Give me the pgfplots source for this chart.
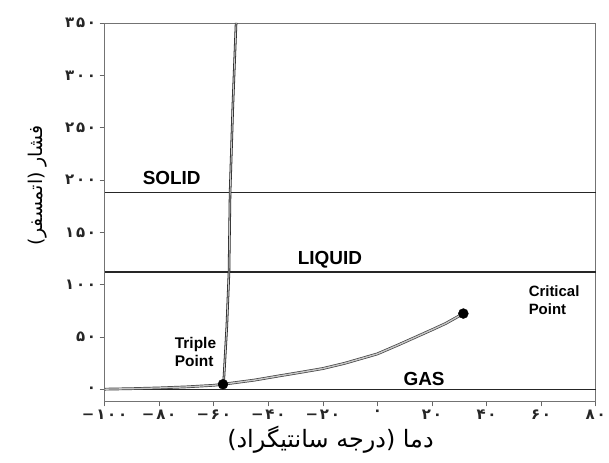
\documentclass[border=0pt]{standalone}
\usepackage{pgfplots}
\pgfplotsset{compat=1.18}
\usepackage{fontspec}
\setmainfont{Liberation Sans}
\newfontfamily\arabicfont[Script=Arabic]{DejaVu Sans}
\newfontfamily\digitfont[LetterSpace=12]{DejaVu Sans Bold}
\TeXXeTstate=1
\begin{document}
\begin{tikzpicture}
\begin{axis}[
  at={(0,0)}, anchor=south west,
  scale only axis, width=493pt, height=380pt,
  xmin=-100, xmax=80, ymin=-11.4, ymax=350,
  xtick={-100,-80,-60,-40,-20,0,20,40,60,80},
  xticklabels={−۱۰۰,−۸۰,−۶۰,−۴۰,−۲۰,۰,۲۰,۴۰,۶۰,۸۰},
  ytick={0,50,100,150,200,250,300,350},
  yticklabels={۰,۵۰,۱۰۰,۱۵۰,۲۰۰,۲۵۰,۳۰۰,۳۵۰},
  tick align=outside, major tick length=5pt,
  xtick pos=bottom, ytick pos=left,
  tick label style={font=\digitfont\fontsize{15}{15}\selectfont, black!85},
  axis line style={black!55, line width=0.8pt},
  tick style={black!60, line width=0.6pt},
  clip=false,
  xlabel={\arabicfont\beginR دما (درجه سانتیگراد)\endR},
  xlabel style={font=\fontsize{24}{24}\selectfont, at={(rel axis cs:0.46,0)}, anchor=center, yshift=-38pt},
]
% phase boundaries (horizontal region lines)
\addplot[black!85, line width=1.5pt] coordinates {(-100,188) (80,188)};
\addplot[black!85, line width=1.5pt] coordinates {(-100,112) (80,112)};
\addplot[black!85, line width=1.5pt] coordinates {(-100,0) (80,0)};
% sublimation curve
\addplot[draw=black!75, line width=0.7pt, double=gray!45, double distance=1.3pt]
  coordinates {(-100,0.3) (-90,0.8) (-80,1.5) (-70,2.5) (-60,4) (-56.6,5)};
% melting curve
\addplot[draw=black!85, line width=0.8pt, double=gray!40, double distance=0.9pt]
  coordinates {(-56.4,5) (-55.2,60) (-54.4,112) (-54,188) (-53,270) (-51.8,350)};
% vapour curve
\addplot[draw=black!75, line width=0.7pt, double=gray!45, double distance=1.4pt]
  coordinates {(-56.6,5) (-45,9) (-36,13) (-29,16) (-20,20) (-12,25) (0,34) (8,43) (14,50) (20,57) (25,63) (31.5,72.5)};
% triple and critical points
\addplot[only marks, mark=*, mark size=5pt, black] coordinates {(-56.6,5) (31.5,72.5)};
% region labels
\node[font=\bfseries\fontsize{19}{19}\selectfont, inner sep=0pt] at (axis cs:-75.4,202) {SOLID};
\node[font=\bfseries\fontsize{19}{19}\selectfont, inner sep=0pt] at (axis cs:-17.4,124) {LIQUID};
\node[font=\bfseries\fontsize{19}{19}\selectfont, inner sep=0pt] at (axis cs:17.1,10.5) {GAS};
\node[font=\bfseries\fontsize{15.5}{18.3}\selectfont, inner sep=0pt, align=left, anchor=west] at (axis cs:-74.3,36) {Triple\\Point};
\node[font=\bfseries\fontsize{15}{18}\selectfont, inner sep=0pt, align=left, anchor=west] at (axis cs:55.4,85) {Critical\\Point};
% y axis label
\node[rotate=90, font=\fontsize{19}{19}\selectfont, anchor=center] at ([xshift=-67pt]rel axis cs:0,0.571) {\arabicfont\beginR فشار (اتمسفر)\endR};
\end{axis}
\path (-105pt,-61pt) rectangle (504pt,403pt);
\end{tikzpicture}
\end{document}
